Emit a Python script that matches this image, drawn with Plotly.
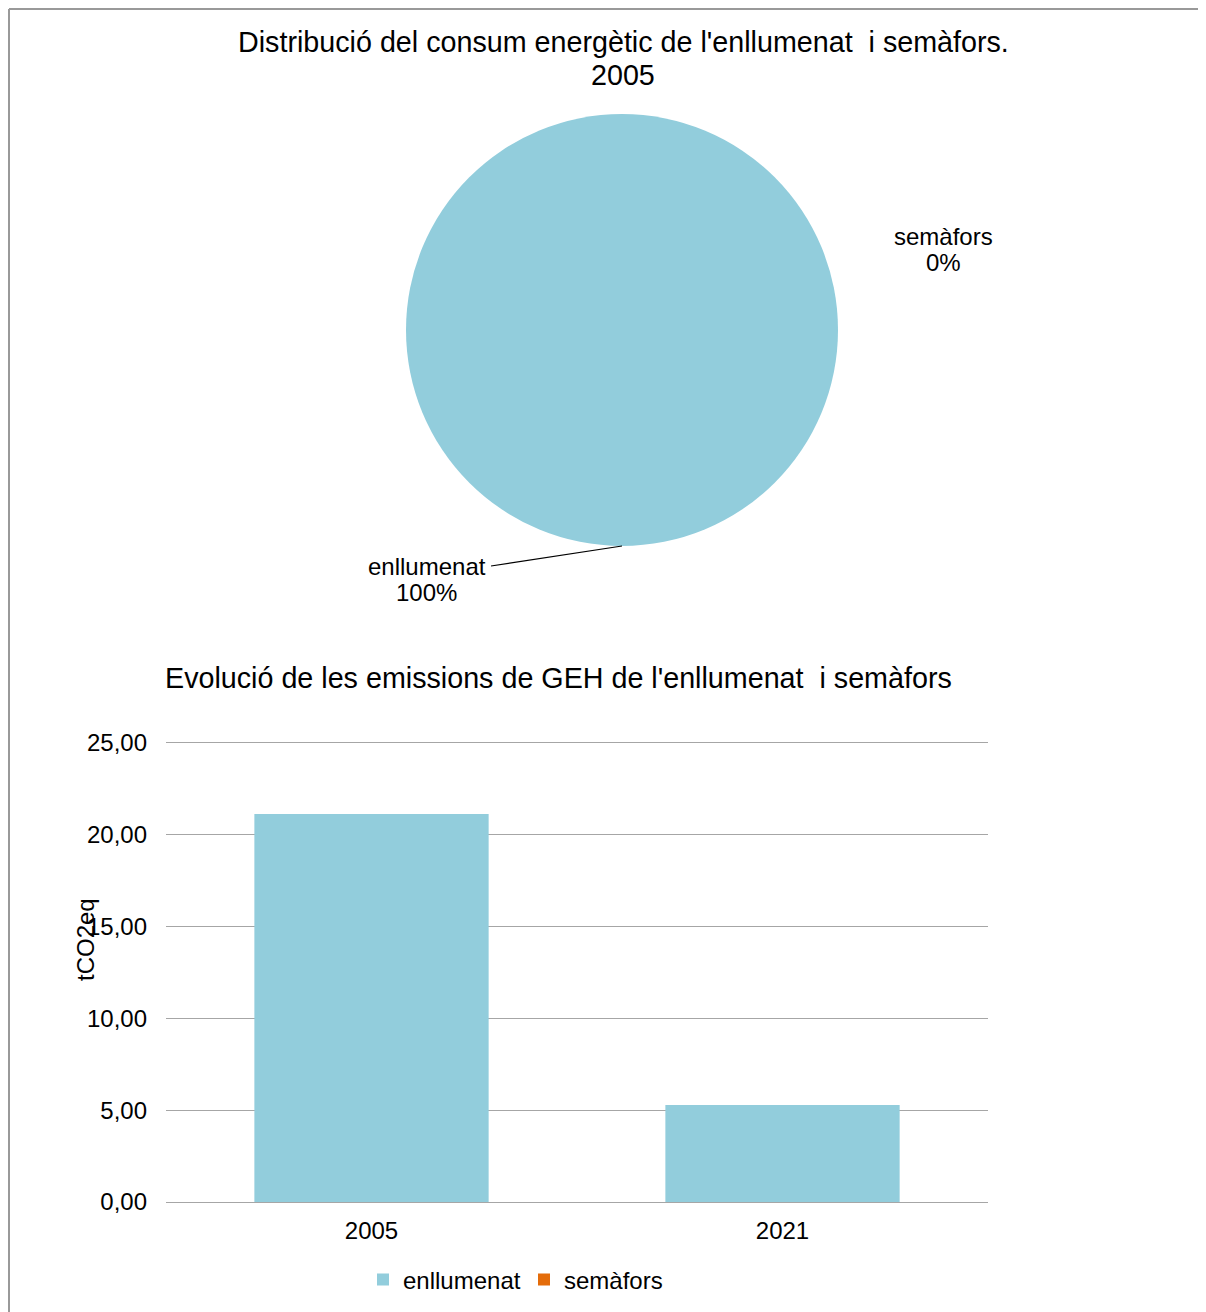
import plotly.graph_objects as go

# ---- data ----
pie_labels = ["enllumenat", "semàfors"]
pie_values = [100, 0]

years = ["2005", "2021"]
enllumenat = [21.13, 5.28]
semafors = [0.0, 0.0]

pie_title_lines = ["Distribució del consum energètic de l'enllumenat  i semàfors.", "2005"]
bar_title = "Evolució de les emissions de GEH de l'enllumenat  i semàfors"
y_title = "tCO2eq"
y_ticks = [0, 5, 10, 15, 20, 25]

# ---- style ----
W, H = 1206, 1312
OFF = 8  # page body margin
C_BLUE = "#92CDDC"
C_ORANGE = "#E46C0A"
FONT = "Liberation Sans, Arial, sans-serif"
GRID = "#A6A6A6"


def px(x):
    return (x - OFF) / W


def py(y):
    return 1 - (y - OFF) / H


fig = go.Figure()

fig.add_trace(go.Pie(
    labels=pie_labels, values=pie_values,
    marker=dict(colors=[C_BLUE, C_ORANGE], line=dict(width=0)),
    textinfo="none", sort=False, direction="clockwise", rotation=180,
    showlegend=False, hoverinfo="label+percent",
    domain=dict(x=[px(406), px(838)], y=[py(546), py(114)]),
))

fig.add_trace(go.Bar(name=pie_labels[0], x=years, y=enllumenat,
                     marker=dict(color=C_BLUE, line=dict(width=0)),
                     width=0.57, xaxis="x", yaxis="y"))
fig.add_trace(go.Bar(name=pie_labels[1], x=years, y=semafors,
                     marker=dict(color=C_ORANGE, line=dict(width=0)),
                     width=0.57, xaxis="x", yaxis="y"))

total = sum(pie_values)
pct = [round(v / total * 100) for v in pie_values]


def ann(text, x, y, size, **kw):
    d = dict(text=text, x=px(x), y=py(y), xref="paper", yref="paper",
             xanchor="center", yanchor="middle", showarrow=False,
             font=dict(size=size, color="#000"), align="center")
    d.update(kw)
    return d


annotations = [
    ann(pie_title_lines[0], 623, 42, 28.7),
    ann(pie_title_lines[1], 623, 75, 28.7),
    ann(bar_title, 558, 678, 28.7),
    ann(pie_labels[0], 427, 566, 24),
    ann(f"{pct[0]}%", 427, 593, 24),
    ann(pie_labels[1], 943, 236, 24),
    ann(f"{pct[1]}%", 943, 263, 24),
    ann(y_title, 85, 940, 24, textangle=-90),
]

shapes = [
    dict(type="line", xref="paper", yref="paper", x0=px(491), y0=py(566), x1=px(622), y1=py(546),
         line=dict(color="#000", width=1.2)),
    dict(type="line", xref="paper", yref="paper", x0=px(9), y0=py(9), x1=px(1220), y1=py(9),
         line=dict(color="#999", width=2)),
    dict(type="line", xref="paper", yref="paper", x0=px(9), y0=py(9), x1=px(9), y1=py(1330),
         line=dict(color="#999", width=2)),
]

fig.update_layout(
    width=W, height=H,
    margin=dict(l=0, r=0, t=0, b=0, autoexpand=False),
    paper_bgcolor="white", plot_bgcolor="white",
    font=dict(family=FONT, size=24, color="#000"),
    separators=",.",
    barmode="overlay",
    xaxis=dict(domain=[px(166), px(988)], type="category", showgrid=False,
               showline=False, ticks="", tickfont=dict(size=24), ticklabelstandoff=12,
               automargin=False, fixedrange=True),
    yaxis=dict(domain=[py(1202), py(741)], range=[0, 25.1], tickvals=y_ticks,
               tickformat=".2f",
               showgrid=True, gridcolor=GRID, gridwidth=1.2, zeroline=True,
               zerolinecolor=GRID, zerolinewidth=1.2, ticks="", ticklabelstandoff=18,
               tickfont=dict(size=24), automargin=False, fixedrange=True),
    legend=dict(orientation="h", x=px(363), y=py(1280), xanchor="left", yanchor="middle",
                font=dict(size=24), itemwidth=30, entrywidth=116, entrywidthmode="pixels",
                bgcolor="rgba(0,0,0,0)"),
    annotations=annotations,
    shapes=shapes,
)

fig.write_html("out.html")
